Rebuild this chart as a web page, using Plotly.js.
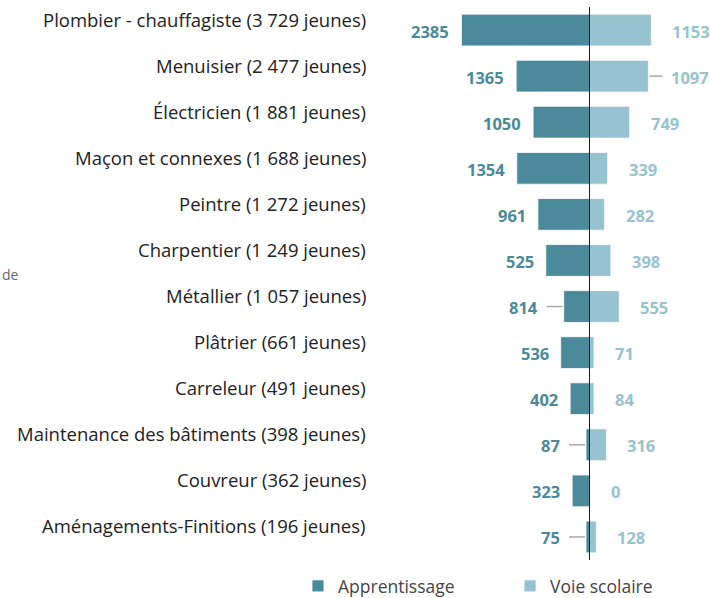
<!DOCTYPE html>
<html>
<head>
<meta charset="utf-8">
<script src="https://cdn.plot.ly/plotly-3.0.1.min.js"></script>
<style>html,body{margin:0;padding:0;background:#fff;}#chart{width:710px;height:598px;}</style>
</head>
<body>
<div id="chart"></div>
<script>
// ---- data ----
const metiers = [
  "Plombier - chauffagiste (3 729 jeunes)",
  "Menuisier (2 477 jeunes)",
  "Électricien (1 881 jeunes)",
  "Maçon et connexes (1 688 jeunes)",
  "Peintre (1 272 jeunes)",
  "Charpentier (1 249 jeunes)",
  "Métallier (1 057 jeunes)",
  "Plâtrier (661 jeunes)",
  "Carreleur (491 jeunes)",
  "Maintenance des bâtiments (398 jeunes)",
  "Couvreur (362 jeunes)",
  "Aménagements-Finitions (196 jeunes)"
];
// bar lengths as drawn in the reference
const apprentissage = [2385, 1365, 1050, 1354, 961, 814, 480, 536, 360, 65, 323, 65];
const voieScolaire  = [1153, 1097, 749, 339, 282, 398, 555, 85, 85, 316, 12, 128];
// value labels as printed in the reference
const apprentissageLabels = ["2385","1365","1050","1354","961","525","814","536","402","87","323","75"];
const voieScolaireLabels  = ["1153","1097","749","339","282","398","555","71","84","316","0","128"];
const seriesNames = ["Apprentissage", "Voie scolaire"];

// ---- styles ----
const cAppr = "#4a8a9b", cVoie = "#96c3cf";
const FONT = "Open Sans, Noto Sans, sans-serif";
const leaderAppr = [6, 9, 11];   // rows whose apprentissage label uses a leader line
const leaderVoie = [1];

const traces = [
  {type:"bar", orientation:"h", name:seriesNames[0], y:metiers, x:apprentissage.map(v=>-v), legend:"legend",
   marker:{color:cAppr, line:{color:"rgba(255,255,255,0.8)", width:1}}, hoverinfo:"skip"},
  {type:"bar", orientation:"h", name:seriesNames[1], y:metiers, x:voieScolaire, legend:"legend2",
   marker:{color:cVoie, line:{color:"rgba(255,255,255,0.8)", width:1}}, hoverinfo:"skip"}
];

const L = 375, W = 325, T = 7, H = 553;
const px2x = p => (p - L) / W;
const py2y = p => (T + H - p) / H;

const annotations = [];
const shapes = [];
metiers.forEach((m,i)=>{
  // category label
  annotations.push({xref:"paper", yref:"y", x:px2x(368), y:m, xanchor:"right", yanchor:"middle",
    yshift:11, text:m, showarrow:false, font:{family:FONT, size:18.5, color:"#222"}});
  const la = leaderAppr.includes(i);
  annotations.push({x:-apprentissage[i], y:m, xref:"x", yref:"y", text:"<b>"+apprentissageLabels[i]+"</b>",
    showarrow:false, xanchor:"right", xshift: la ? -24 : -10, yshift:-1,
    font:{family:FONT, size:16.5, color:cAppr}});
  const lv = leaderVoie.includes(i);
  annotations.push({x:voieScolaire[i], y:m, xref:"x", yref:"y", text:"<b>"+voieScolaireLabels[i]+"</b>",
    showarrow:false, xanchor:"left", xshift: lv ? 21 : 19, yshift:-1,
    font:{family:FONT, size:16.5, color:cVoie}});
  if (la) shapes.push({type:"line", xref:"x", yref:"y", xsizemode:"pixel", xanchor:-apprentissage[i],
    x0:-17, x1:-1, y0:m, y1:m, line:{color:"#a9a9a9", width:1.5}});
  if (lv) shapes.push({type:"line", xref:"x", yref:"y", xsizemode:"pixel", xanchor:voieScolaire[i],
    x0:1, x1:14, y0:m, y1:m, line:{color:"#a9a9a9", width:1.5}});
});
// centre line
shapes.push({type:"line", xref:"x", yref:"paper", x0:0, x1:0, y0:0, y1:1, layer:"above",
  line:{color:"#1a1a1a", width:1}});

annotations.push({xref:"paper", yref:"paper", x:px2x(0), y:py2y(274), xanchor:"left", yanchor:"middle",
  text:"de", showarrow:false, font:{family:FONT, size:14, color:"#666"}});

const legendFont = {family:FONT, size:17.5, color:"#444"};
const layout = {
  width:710, height:598,
  margin:{l:L, r:710-L-W, t:T, b:598-T-H, autoexpand:false},
  paper_bgcolor:"#fff", plot_bgcolor:"#fff",
  barmode:"relative", bargap:0.31,
  showlegend:true,
  legend:{orientation:"h", x:px2x(298), xanchor:"left", y:py2y(586), yanchor:"middle", font:legendFont,
    bgcolor:"rgba(0,0,0,0)"},
  legend2:{orientation:"h", x:px2x(510), xanchor:"left", y:py2y(586), yanchor:"middle", font:legendFont,
    bgcolor:"rgba(0,0,0,0)"},
  xaxis:{range:[-3994, 2058], showgrid:false, zeroline:false, showticklabels:false, showline:false, fixedrange:true},
  yaxis:{autorange:false, range:[11.5,-0.5], type:"category", showgrid:false, zeroline:false, showline:false,
    showticklabels:false},
  annotations:annotations,
  shapes:shapes,
  font:{family:FONT}
};
Plotly.newPlot("chart", traces, layout, {displayModeBar:false, staticPlot:true});
</script>
</body>
</html>
